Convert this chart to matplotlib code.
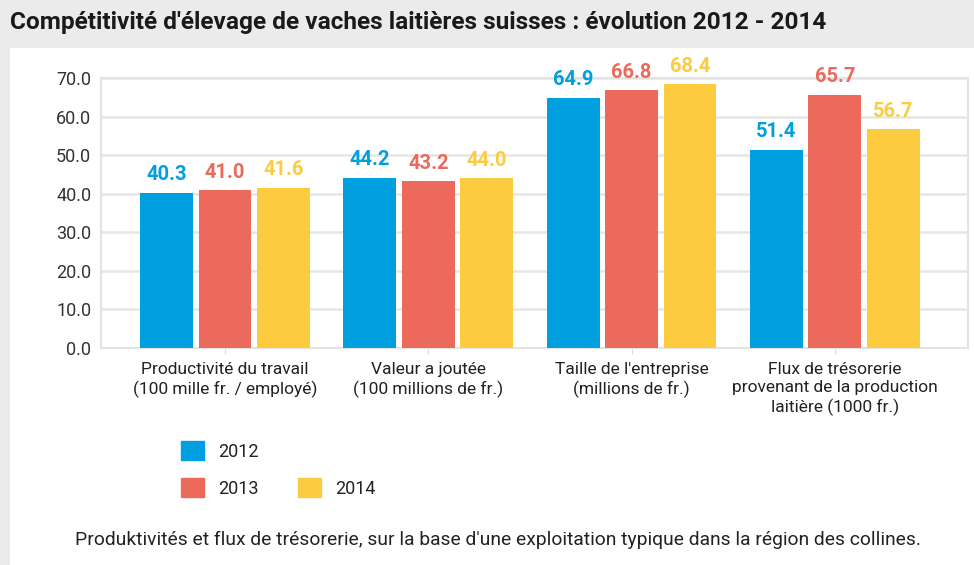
import matplotlib
matplotlib.use("Agg")
import matplotlib.pyplot as plt
import numpy as np
from matplotlib.patches import Rectangle, Patch

# data
categories = [
    "Productivité du travail\n(100 mille fr. / employé)",
    "Valeur a joutée\n(100 millions de fr.)",
    "Taille de l'entreprise\n(millions de fr.)",
    "Flux de trésorerie\nprovenant de la production\nlaitière (1000 fr.)",
]
years = ["2012", "2013", "2014"]
values_2012 = [40.3, 44.2, 64.9, 51.4]
values_2013 = [41.0, 43.2, 66.8, 65.7]
values_2014 = [41.6, 44.0, 68.4, 56.7]
y_ticks = [0, 10, 20, 30, 40, 50, 60, 70]

colors = ["#009fe0", "#eb6a5b", "#fdcb40"]
series = [values_2012, values_2013, values_2014]

plt.rcParams["font.family"] = ["Roboto", "DejaVu Sans"]

fig = plt.figure(figsize=(9.74, 5.65), dpi=100)
fig.patch.set_facecolor("#ebebeb")
# white panel under the title band
fig.patches.append(Rectangle((10 / 974, 0), 1, 1 - 48 / 565, transform=fig.transFigure,
                             facecolor="white", edgecolor="none", zorder=-5))

fig.text(10 / 974, 1 - 23 / 565,
         "Compétitivité d'élevage de vaches laitières suisses : évolution 2012 - 2014",
         fontsize=17.6, fontweight="bold", color="#1a1a1a", va="center", ha="left")

ax = fig.add_axes([101 / 974, 1 - 348 / 565, (968 - 101) / 974, (348 - 78) / 565])
ax.set_facecolor("white")

x = np.arange(len(categories))
width = 0.26
step = 0.2875
for i, (vals, col) in enumerate(zip(series, colors)):
    pos = x + (i - 1) * step
    ax.bar(pos, vals, width=width, color=col, zorder=3)
    for px, v in zip(pos, vals):
        ax.annotate(f"{v:.1f}", (px, v), xytext=(0, 6), textcoords="offset points",
                    ha="center", va="bottom", color=col, fontsize=14.5,
                    fontweight="bold", zorder=4)

ax.set_xlim(-0.61, 3.655)
ax.set_ylim(0, 70)
ax.set_yticks(y_ticks)
ax.set_yticklabels([f"{t:.1f}" for t in y_ticks])
ax.set_xticks(x)
ax.set_xticklabels(categories, fontsize=12.5, color="#222222", linespacing=1.25)
ax.tick_params(axis="y", length=0, pad=7, labelsize=13, labelcolor="#333333")
ax.tick_params(axis="x", length=4, color="#dddddd", pad=6)
ax.grid(axis="y", color="#e6e6e6", linewidth=1.8, zorder=0)
for s in ax.spines.values():
    s.set_color("#e3e3e3")
    s.set_linewidth(1.5)

# legend: 2012 alone on first row, 2013 and 2014 on second
handles = [Patch(color=colors[0], label=years[0]),
           Patch(color=colors[1], label=years[1]),
           Patch(color="none", label=" "),
           Patch(color=colors[2], label=years[2])]
fig.legend(handles=handles, ncol=2, loc="upper left",
           bbox_to_anchor=(181 / 974, 1 - 441 / 565), frameon=False,
           fontsize=13, handlelength=1.25, handleheight=1.25, handletextpad=0.8,
           labelspacing=0.97, columnspacing=2.2, borderpad=0, borderaxespad=0,
           labelcolor="#222222")

fig.text(75 / 974, 1 - 540 / 565,
         "Produktivités et flux de trésorerie, sur la base d'une exploitation typique dans la région des collines.",
         fontsize=13.85, color="#222222", va="center", ha="left")

fig.savefig("out.png", dpi=100, facecolor=fig.get_facecolor())
